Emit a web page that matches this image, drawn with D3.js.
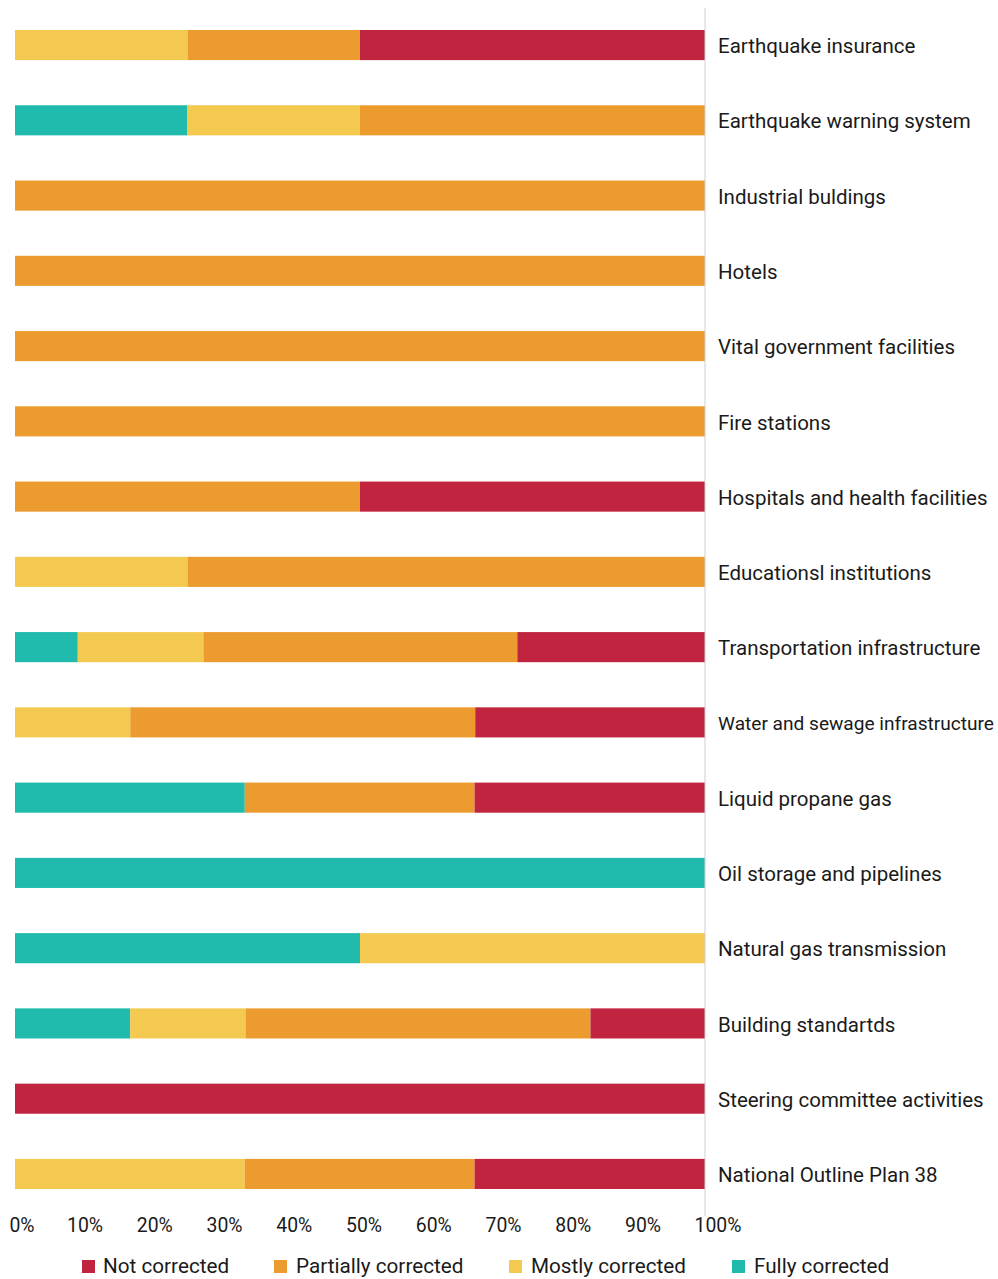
<!DOCTYPE html>
<html>
<head>
<meta charset="utf-8">
<script src="https://cdn.jsdelivr.net/npm/d3@7"></script>
<style>
  body { margin: 0; background: #fff; }
  svg text { font-family: Roboto, "Noto Sans", sans-serif; fill: #1a1a1a; }
</style>
</head>
<body>
<div id="chart"></div>
<script>
// rows, top to bottom
const categories = [
  "Earthquake insurance",
  "Earthquake warning system",
  "Industrial buldings",
  "Hotels",
  "Vital government facilities",
  "Fire stations",
  "Hospitals and health facilities",
  "Educationsl institutions",
  "Transportation infrastructure",
  "Water and sewage infrastructure",
  "Liquid propane gas",
  "Oil storage and pipelines",
  "Natural gas transmission",
  "Building standartds",
  "Steering committee activities",
  "National Outline Plan 38"
]

// shares in percent, stacked left to right: fully, mostly, partially, not
const fully     = [0,  25, 0,   0,   0,   0,   0,  0,  9.1,  0,    33.3, 100, 50, 16.7, 0,   0]
const mostly    = [25, 25, 0,   0,   0,   0,   0,  25, 18.2, 16.7, 0,    0,   50, 16.7, 0,   33.3]
const partially = [25, 50, 100, 100, 100, 100, 50, 75, 45.5, 50,   33.3, 0,   0,  50,   0,   33.3]
const notCorr   = [50, 0,  0,   0,   0,   0,   50, 0,  27.2, 33.3, 33.4, 0,   0,  16.6, 100, 33.4]

const seriesKeys = ["fully", "mostly", "partially", "not"]
const legendLabels = ["Not corrected", "Partially corrected", "Mostly corrected", "Fully corrected"]
const legendKeys = ["not", "partially", "mostly", "fully"]
const tickValues = [0, 10, 20, 30, 40, 50, 60, 70, 80, 90, 100]

const colors = {fully: "#20bbad", mostly: "#f4c94f", partially: "#ec9c2e", not: "#c0243f"}

const width = 998, height = 1279

const rows = categories.map((c, i) => ({
  name: c, fully: fully[i], mostly: mostly[i], partially: partially[i], not: notCorr[i]
}))

const svg = d3.select("#chart").append("svg")
  .attr("width", width)
  .attr("height", height)

const x = d3.scaleLinear().domain([0, 100]).range([15, 705])
const y = d3.scaleBand().domain(categories).range([30, 1189]).paddingInner(0.6).paddingOuter(0)

// tick labels sit slightly spread out relative to the bars
const xLabel = d3.scaleLinear().domain([0, 10, 90, 100]).range([22, 85, 643, 718])

const stack = d3.stack().keys(seriesKeys)(rows)

svg.append("g")
  .selectAll("g")
  .data(stack)
  .join("g")
    .attr("fill", d => colors[d.key])
  .selectAll("rect")
  .data(d => d)
  .join("rect")
    .attr("x", d => x(d[0]))
    .attr("y", d => y(d.data.name))
    .attr("width", d => x(d[1]) - x(d[0]))
    .attr("height", y.bandwidth())

// right edge line
svg.append("line")
  .attr("x1", x(100)).attr("x2", x(100))
  .attr("y1", 8).attr("y2", 1216)
  .attr("stroke", "#cfcfcf")
  .attr("stroke-width", 1)

// row labels, shrunk if they would run off the right edge
const labelX = x(100) + 13
svg.append("g")
  .selectAll("text")
  .data(categories)
  .join("text")
    .attr("x", labelX)
    .attr("y", d => y(d) + y.bandwidth() / 2 + 1)
    .attr("dy", "0.35em")
    .attr("font-size", "20.5px")
    .text(d => d)
    .each(function() {
      const room = width - labelX - 4
      const len = this.getComputedTextLength()
      if (len > room) d3.select(this).attr("font-size", (20.5 * room / len).toFixed(2) + "px")
    })

// x tick labels
svg.append("g")
  .selectAll("text")
  .data(tickValues)
  .join("text")
    .attr("x", d => xLabel(d))
    .attr("y", 1232)
    .attr("text-anchor", "middle")
    .attr("font-size", "19.4px")
    .text(d => d + "%")

// legend
const legendX = [82, 274, 509, 732]
const legend = svg.append("g")
  .selectAll("g")
  .data(legendKeys)
  .join("g")
    .attr("transform", (d, i) => "translate(" + legendX[i] + ",1260)")

legend.append("rect")
  .attr("width", 13).attr("height", 13)
  .attr("fill", d => colors[d])

legend.append("text")
  .attr("x", (d, i) => i === 0 ? 21 : 22)
  .attr("y", 13)
  .attr("font-size", "20.7px")
  .text((d, i) => legendLabels[i])
</script>
</body>
</html>
